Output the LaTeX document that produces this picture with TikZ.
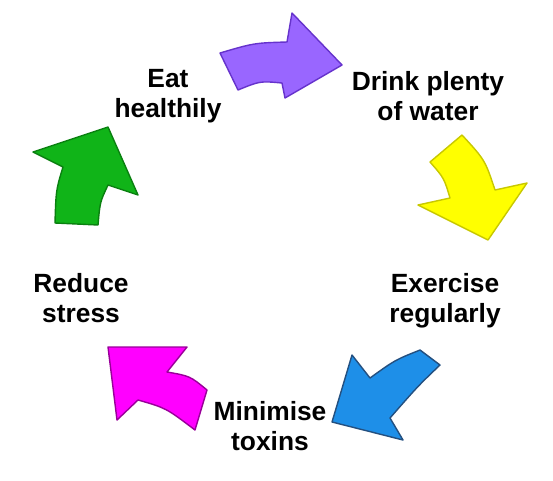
\documentclass[tikz,border=0pt]{standalone}
\usepackage{fontspec}
\setmainfont{Liberation Sans}
\usepackage{tikz}
\usepackage{xcolor}
\usetikzlibrary{positioning}
\definecolor{Purple}{HTML}{9966FF}
\definecolor{PurpleLine}{HTML}{6633CC}
\definecolor{Yellow}{HTML}{FFFF00}
\definecolor{YellowLine}{HTML}{C8C800}
\definecolor{Blue}{HTML}{1E8FE8}
\definecolor{BlueLine}{HTML}{245080}
\definecolor{Magenta}{HTML}{FF00FF}
\definecolor{MagentaLine}{HTML}{990099}
\definecolor{Green}{HTML}{10B418}
\definecolor{GreenLine}{HTML}{0A8010}

\tikzset{
  bendarrow/.style={line width=0.8pt,line join=round},
  step label/.style={font=\fontsize{15}{17}\selectfont\bfseries,align=center,anchor=base,inner sep=0pt}
}

\begin{document}
\begin{tikzpicture}[x=0.02cm,y=-0.02cm]
  \useasboundingbox (0,0) rectangle (553,480);
  % arrows round the cycle
  \draw[bendarrow,draw=PurpleLine,fill=Purple] (220,53) .. controls (254,43) .. (287,42)
    -- (292,13) -- (342,65) -- (285,98) -- (282,83) .. controls (260,81) .. (238,90) -- cycle;
  \draw[bendarrow,draw=YellowLine,fill=Yellow] (430,162) -- (462,135) .. controls (485,160) .. (495,190)
    -- (527,183) -- (488,240) -- (418,205) -- (450,198) .. controls (444,178) .. cycle;
  \draw[bendarrow,draw=BlueLine,fill=Blue] (352,355) -- (370,378) .. controls (395,360) .. (420,350)
    -- (440,365) .. controls (418,386) .. (390,418) -- (403,440) -- (332,422) -- cycle;
  \draw[bendarrow,draw=MagentaLine,fill=Magenta] (108,347) -- (187,347) -- (167,372) .. controls (190,376) .. (207,390)
    -- (195,430) .. controls (166,408) .. (138,400) -- (117,420) -- cycle;
  \draw[bendarrow,draw=GreenLine,fill=Green] (33,152) -- (108,127) -- (138,195) -- (108,185) .. controls (100,202) .. (98,225)
    -- (55,223) .. controls (56,190) .. (63,167) -- cycle;
  % labels
  \node[step label] (eat) at (168,117) {Eat\\healthily};
  \node[step label] (drink) at (428,120) {Drink plenty\\of water};
  \node[step label] (exercise) at (445,322) {Exercise\\regularly};
  \node[step label] (toxins) at (270,450) {Minimise\\toxins};
  \node[step label] (stress) at (81,322) {Reduce\\stress};
\end{tikzpicture}
\end{document}
